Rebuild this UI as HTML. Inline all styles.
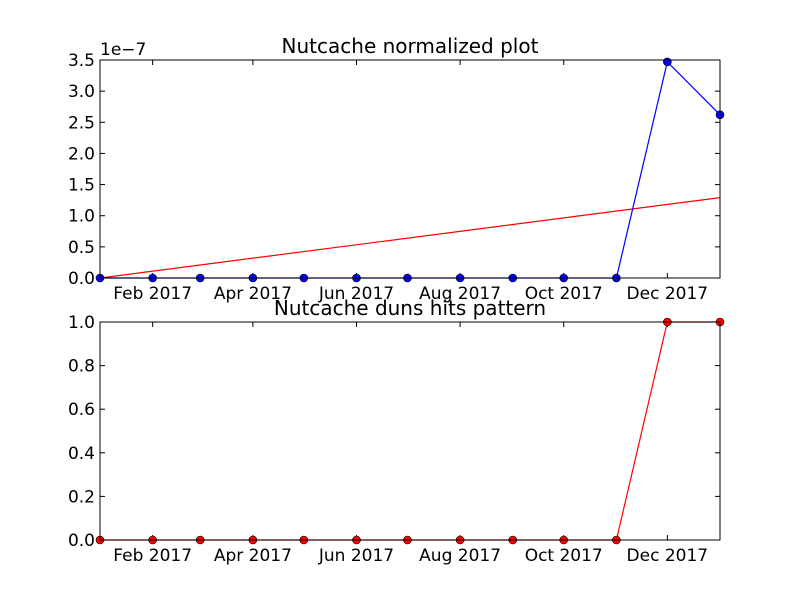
<!DOCTYPE html>
<html><head><meta charset="utf-8"><style>
body{margin:0;background:#fff}
svg text{font-family:"DejaVu Sans","Liberation Sans",sans-serif}
</style></head><body>
<svg id="chart" width="800" height="600" xmlns="http://www.w3.org/2000/svg">
<rect width="800" height="600" fill="#fff"/>
</svg>
<script>
const months = ["2017-01-01","2017-02-01","2017-03-01","2017-04-01","2017-05-01","2017-06-01","2017-07-01","2017-08-01","2017-09-01","2017-10-01","2017-11-01","2017-12-01","2018-01-01"];
const normValues = [0,0,0,0,0,0,0,0,0,0,0,3.47,2.62];
const trendValues = [0,1.29];
const hitValues = [0,0,0,0,0,0,0,0,0,0,0,1,1];
const xTickLabels = ["Feb 2017","Apr 2017","Jun 2017","Aug 2017","Oct 2017","Dec 2017"];
const xTickDates = ["2017-02-01","2017-04-01","2017-06-01","2017-08-01","2017-10-01","2017-12-01"];
const topYTicks = [0,0.5,1.0,1.5,2.0,2.5,3.0,3.5];
const botYTicks = [0,0.2,0.4,0.6,0.8,1.0];

const svg = document.getElementById('chart');
const NS = "http://www.w3.org/2000/svg";
function mk(tag, attrs, parent){const e=document.createElementNS(NS,tag);for(const k in attrs)e.setAttribute(k,attrs[k]);(parent||svg).appendChild(e);return e;}
const t0 = Date.parse("2017-01-01"), t1 = Date.parse("2018-01-01");
const L=100,R=720;
function xs(d){return L+(Date.parse(d)-t0)/(t1-t0)*(R-L);}

function panel(top,bot,ymax,yTicks,fmt,title,name){
  const ys=v=>bot-(v/ymax)*(bot-top);
  const g=mk('g',{});
  
  
  const ttl=mk('text',{x:410,y:top-7,'text-anchor':'middle','font-size':20},g);ttl.textContent=title;
  
  yTicks.forEach(v=>{
    const y=ys(v);
    mk('line',{x1:L,x2:L+5,y1:y,y2:y,stroke:'#000'},g);
    mk('line',{x1:R,x2:R-5,y1:y,y2:y,stroke:'#000'},g);
    const t=mk('text',{x:L-5,y:y+6,'text-anchor':'end','font-size':17},g);t.textContent=fmt(v);
    
  });
  xTickDates.forEach((d,i)=>{const x=xs(d);
    mk('line',{x1:x,x2:x,y1:bot,y2:bot-5,stroke:'#000'},g);
    mk('line',{x1:x,x2:x,y1:top,y2:top+5,stroke:'#000'},g);
    const t=mk('text',{x:x,y:bot+21,'text-anchor':'middle','font-size':17},g);t.textContent=xTickLabels[i];
    
  });
  return {g,ys};
}

const p1=panel(60,278,3.5,topYTicks,v=>v.toFixed(1),"Nutcache normalized plot","normalized-plot");
const e=mk('text',{x:100,y:55,'font-size':17},p1.g);e.textContent="1e\u22127";

const trend=mk('line',{x1:xs(months[0]),y1:p1.ys(trendValues[0]),x2:xs(months[12]),y2:p1.ys(trendValues[1]),stroke:'#f00','stroke-width':1.2},p1.g);

const l1=mk('polyline',{points:months.map((d,i)=>xs(d)+','+p1.ys(normValues[i])).join(' '),fill:'none',stroke:'#00f','stroke-width':1.2},p1.g);

months.forEach((d,i)=>{const c=mk('circle',{cx:xs(d),cy:p1.ys(normValues[i]),r:4,fill:'#00f',stroke:'#000','stroke-width':0.6},p1.g);
  });
mk('rect',{x:L,y:60,width:R-L,height:218,fill:'none',stroke:'#000'},p1.g);

const p2=panel(322,540,1.0,botYTicks,v=>v.toFixed(1),"Nutcache duns hits pattern","hits-plot");
const l2=mk('polyline',{points:months.map((d,i)=>xs(d)+','+p2.ys(hitValues[i])).join(' '),fill:'none',stroke:'#f00','stroke-width':1.2},p2.g);

months.forEach((d,i)=>{const c=mk('circle',{cx:xs(d),cy:p2.ys(hitValues[i]),r:4,fill:'#f00',stroke:'#000','stroke-width':0.6},p2.g);
  });
mk('rect',{x:L,y:322,width:R-L,height:218,fill:'none',stroke:'#000'},p2.g);
</script>
</body></html>
